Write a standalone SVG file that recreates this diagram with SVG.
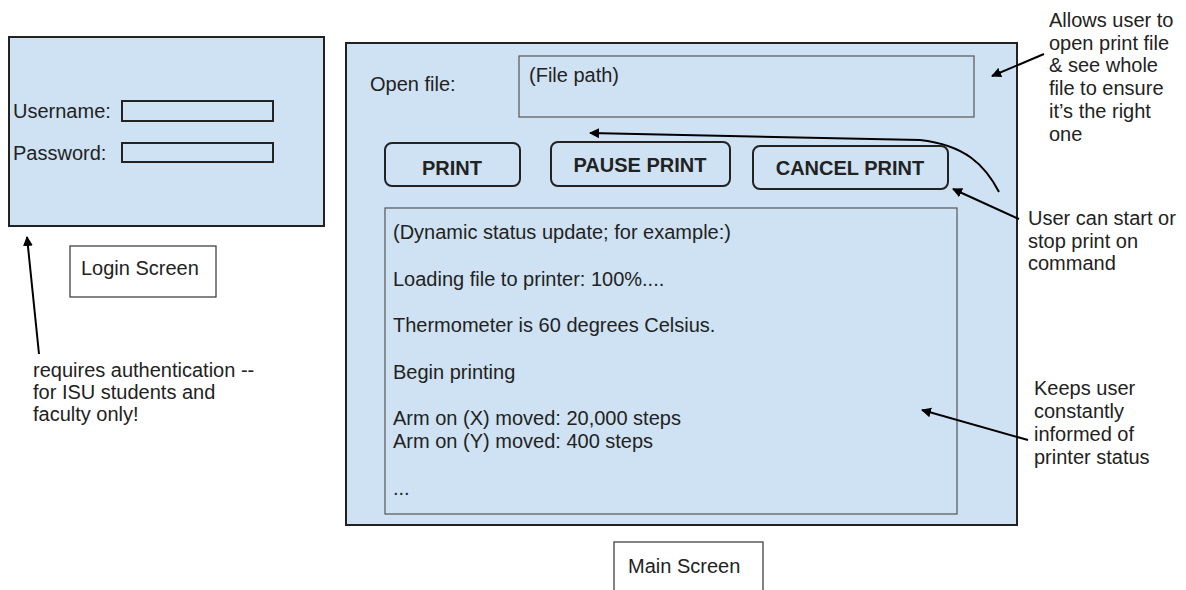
<svg xmlns="http://www.w3.org/2000/svg" width="1186" height="590" viewBox="0 0 1186 590">
<defs>
<style>
text{font-family:"Liberation Sans",Arial,sans-serif;font-size:20px;fill:#222}
.b{font-weight:bold;font-size:20px}
.scr{fill:#cfe2f3;stroke:#222;stroke-width:2}
.fld{fill:#cfe2f3;stroke:#222;stroke-width:2}
.thin{fill:#cfe2f3;stroke:#555;stroke-width:1.2}
.btn{fill:#cfe2f3;stroke:#222;stroke-width:2}
.lbl{fill:#fff;stroke:#333;stroke-width:1.2}
.con{fill:none;stroke:#000;stroke-width:2}
</style>
<marker id="ah" viewBox="0 0 10 10" refX="9" refY="5" markerWidth="5" markerHeight="5" orient="auto" markerUnits="strokeWidth">
<path d="M0,0 L10,5 L0,10 z" fill="#000"/>
</marker>
</defs>

<g id="login-screen">
<rect class="scr" x="9" y="37" width="315" height="189"/>
<text x="13" y="118">Username:</text>
<rect class="fld" x="122" y="101" width="151" height="20"/>
<text x="13" y="160">Password:</text>
<rect class="fld" x="122" y="143" width="151" height="19"/>
</g>

<g id="login-label">
<rect class="lbl" x="70" y="246" width="146" height="51"/>
<text x="81" y="275">Login Screen</text>
</g>

<g id="auth-note">
<text x="33" y="377">requires authentication --</text>
<text x="33" y="399">for ISU students and</text>
<text x="33" y="421">faculty only!</text>
</g>

<g id="main-screen">
<rect class="scr" x="346" y="43" width="671" height="482"/>
<text x="370" y="91">Open file:</text>
</g>

<g id="file-path">
<rect class="thin" x="519" y="56" width="455" height="61"/>
<text x="529" y="82">(File path)</text>
</g>

<g id="btn-print">
<rect class="btn" x="385" y="143" width="135" height="43" rx="7"/>
<text class="b" x="452" y="175" text-anchor="middle">PRINT</text>
</g>
<g id="btn-pause">
<rect class="btn" x="551" y="142" width="179" height="44" rx="7"/>
<text class="b" x="640" y="172" text-anchor="middle">PAUSE PRINT</text>
</g>
<g id="btn-cancel">
<rect class="btn" x="753" y="146" width="195" height="43" rx="7"/>
<text class="b" x="850" y="175" text-anchor="middle">CANCEL PRINT</text>
</g>

<g id="status">
<rect class="thin" x="385" y="208" width="572" height="306"/>
<text x="393" y="239">(Dynamic status update; for example:)</text>
<text x="393" y="286">Loading file to printer: 100%....</text>
<text x="393" y="332">Thermometer is 60 degrees Celsius.</text>
<text x="393" y="379">Begin printing</text>
<text x="393" y="425">Arm on (X) moved: 20,000 steps</text>
<text x="393" y="448">Arm on (Y) moved: 400 steps</text>
<text x="393" y="495">...</text>
</g>

<g id="main-label">
<rect class="lbl" x="614" y="542" width="149" height="60"/>
<text x="628" y="573">Main Screen</text>
</g>

<g id="file-note">
<text x="1049" y="27">Allows user to</text>
<text x="1049" y="50">open print file</text>
<text x="1049" y="72">&amp; see whole</text>
<text x="1049" y="95">file to ensure</text>
<text x="1049" y="118">it’s the right</text>
<text x="1049" y="141">one</text>
</g>

<g id="button-note">
<text x="1028" y="225">User can start or</text>
<text x="1028" y="248">stop print on</text>
<text x="1028" y="270">command</text>
</g>

<g id="status-note">
<text x="1034" y="395">Keeps user</text>
<text x="1034" y="418">constantly</text>
<text x="1034" y="441">informed of</text>
<text x="1034" y="464">printer status</text>
</g>

<g id="connectors">
<path class="con" d="M39,354 L27,237" marker-end="url(#ah)"/>
<path class="con" d="M1044,54 L992,76" marker-end="url(#ah)"/>
<path class="con" d="M999,192 C985,165 965,145 920,140 L590,133" marker-end="url(#ah)"/>
<path class="con" d="M1019,219 L953,189" marker-end="url(#ah)"/>
<path class="con" d="M1028,440 L922,410" marker-end="url(#ah)"/>
</g>
</svg>
